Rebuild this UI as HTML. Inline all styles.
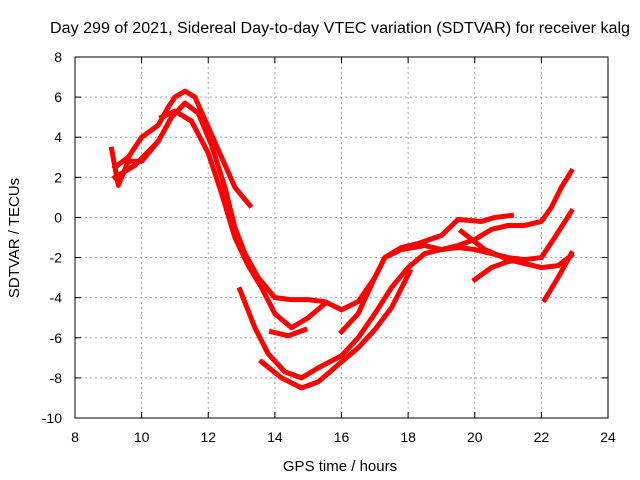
<!DOCTYPE html>
<html><head><meta charset="utf-8"><style>
body{margin:0;background:#fff;}
svg{display:block;font-family:"Liberation Sans",sans-serif;}
</style></head><body>
<svg id="chart" width="640" height="480">
<rect x="0" y="0" width="640" height="480" fill="#fff"/>
<text x="340" y="33" font-size="15.5" text-anchor="middle" textLength="580" lengthAdjust="spacingAndGlyphs">Day 299 of 2021, Sidereal Day-to-day VTEC variation (SDTVAR) for receiver kalg</text>
<text x="340" y="471" font-size="15" text-anchor="middle">GPS time / hours</text>
<text x="19" y="238" font-size="15" text-anchor="middle" transform="rotate(-90 19 238)">SDTVAR / TECUs</text>
<g id="grid"></g><g id="ticks"></g><g id="series"></g>
<rect x="75" y="57" width="533" height="361" fill="none" stroke="#000" stroke-width="1"/>
</svg>
<script>
const xTicks=[8,10,12,14,16,18,20,22,24];
const yTicks=[-10,-8,-6,-4,-2,0,2,4,6,8];
const t1=[[9.2,2.5],[9.6,3.0],[10,4.0],[10.5,4.6],[10.8,5.5],[11.0,6.0],[11.3,6.3],[11.6,6.0],[12,4.5],[12.4,3.0],[12.8,1.5],[13.25,0.6]];
const t2=[[9.2,2.0],[9.8,2.6],[10.5,3.8],[10.9,5.0],[11.3,5.7],[11.7,5.2],[12.1,3.6],[12.5,1.5],[12.8,-0.5],[13.1,-1.8],[13.5,-3.0],[14.0,-4.0],[14.5,-4.1],[15.0,-4.1],[15.5,-4.2],[16.0,-4.6],[16.5,-4.2],[17.0,-3.0],[17.3,-2.0],[17.8,-1.5],[18.3,-1.3],[19.0,-0.9],[19.5,-0.1],[20.2,-0.2],[20.6,0.0],[21.1,0.1]];
const t3=[[10.6,5.0],[11.0,5.3],[11.5,4.8],[12.0,3.2],[12.4,1.2],[12.8,-1.0],[13.2,-2.4],[13.6,-3.5],[14.0,-4.8],[14.5,-5.5],[15.0,-5.0],[15.5,-4.3]];
const t4=[[13.9,-5.7],[14.4,-5.9],[14.9,-5.6]];
const t5=[[16,-5.7],[16.5,-4.8],[17.0,-3.0],[17.3,-2.0],[17.8,-1.6],[18.5,-1.4],[19.0,-1.6],[19.5,-1.4],[20.0,-1.1],[20.5,-0.6],[21.0,-0.4],[21.5,-0.4],[22.0,-0.2],[22.3,0.5],[22.6,1.5],[22.9,2.3]];
const t6=[[12.95,-3.6],[13.4,-5.5],[13.8,-6.8],[14.3,-7.7],[14.8,-8.0],[15.3,-7.5],[16,-6.9],[16.5,-6.0],[17,-4.8],[17.5,-3.5],[18,-2.5],[18.5,-1.8],[19.0,-1.6],[19.5,-1.5],[20.0,-1.6],[20.5,-1.8],[21.0,-2.0],[21.5,-2.1],[22,-2.0],[22.4,-1.0],[22.9,0.3]];
const t7=[[13.6,-7.2],[14.2,-8.0],[14.8,-8.5],[15.3,-8.2],[16,-7.2],[16.5,-6.5],[17,-5.6],[17.5,-4.5],[18.05,-2.7]];
const t8=[[19.6,-0.7],[20.3,-1.6],[21,-2.1],[21.5,-2.3],[22,-2.5],[22.5,-2.4],[22.9,-1.9]];
const t9=[[20,-3.1],[20.5,-2.5],[21,-2.2],[21.5,-2.1]];
const t10=[[22.1,-4.1],[22.5,-3.0],[22.9,-1.8]];
const t11=[[9.1,3.4],[9.3,1.6],[9.6,2.8],[10.0,2.8],[10.5,3.8]];
const tracks=[t1,t2,t3,t4,t5,t6,t7,t8,t9,t10,t11];
const X=h=>75+(h-8)*533/16, Y=v=>57+(8-v)*361/18;
const NS="http://www.w3.org/2000/svg";
const grid=document.getElementById('grid'),ticks=document.getElementById('ticks'),ser=document.getElementById('series');
function mk(tag,at,par){const e=document.createElementNS(NS,tag);for(const k in at)e.setAttribute(k,at[k]);par.appendChild(e);return e;}
xTicks.forEach(t=>{const x=X(t);
 if(t>8&&t<24){const g=mk('line',{x1:x,y1:57,x2:x,y2:418,stroke:'#a0a0a0','stroke-dasharray':'2,3'},grid);
 
 }
 mk('line',{x1:x,y1:418,x2:x,y2:412,stroke:'#000'},ticks);mk('line',{x1:x,y1:57,x2:x,y2:63,stroke:'#000'},ticks);
 const l=mk('text',{x:x,y:442,'font-size':14,'text-anchor':'middle'},ticks);l.textContent=t;
 
 });
yTicks.forEach(t=>{const y=Y(t);
 if(t>-10&&t<8){const g=mk('line',{x1:75,y1:y,x2:608,y2:y,stroke:'#a0a0a0','stroke-dasharray':'2,3'},grid);
 
 }
 mk('line',{x1:75,y1:y,x2:81,y2:y,stroke:'#000'},ticks);mk('line',{x1:608,y1:y,x2:602,y2:y,stroke:'#000'},ticks);
 const l=mk('text',{x:62,y:y+5,'font-size':14,'text-anchor':'end'},ticks);l.textContent=t;
 
 });
tracks.forEach((tr,i)=>{const p=mk('polyline',{points:tr.map(d=>X(d[0])+','+Y(d[1])).join(' '),fill:'none',stroke:'#ff0000','stroke-width':5,'stroke-linejoin':'round','stroke-linecap':'square'},ser);
 
 });
</script>
</body></html>
